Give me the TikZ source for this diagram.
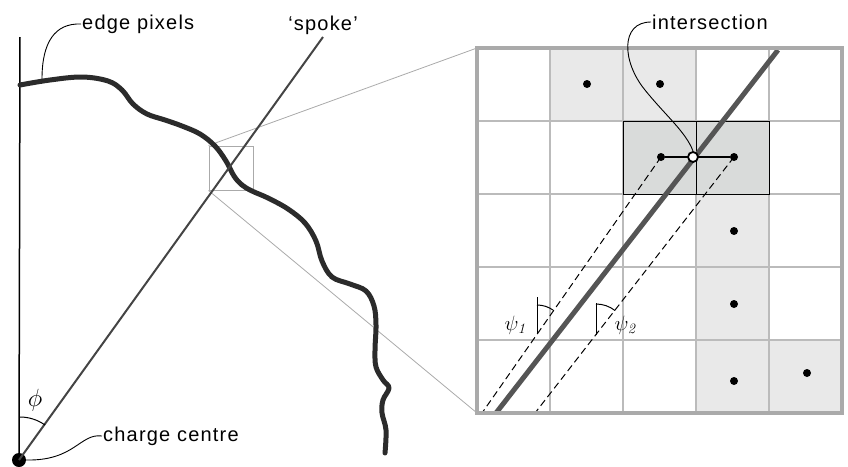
\documentclass[tikz,border=0pt]{standalone}
\usepackage[no-math]{fontspec}
\setmainfont{Liberation Sans}[LetterSpace=6]
\usepackage{amsmath}
\usetikzlibrary{positioning}
\definecolor{edgegray}{HTML}{2B2B2B}
\definecolor{raygray}{HTML}{444444}
\definecolor{gridgray}{HTML}{BBBBBB}
\definecolor{bordergray}{HTML}{AAAAAA}
\definecolor{projgray}{HTML}{AAAAAA}
\definecolor{cellgray}{HTML}{E9E9E9}
\definecolor{cellgraydark}{HTML}{D9DBDA}
\definecolor{spokegray}{HTML}{555555}
\tikzstyle{txt}=[font=\fontsize{20}{24}\selectfont,inner sep=1pt]
\tikzstyle{leader}=[black,line width=0.9pt]
\tikzstyle{dot}=[circle,fill=black,inner sep=0pt,minimum size=8pt]
\tikzstyle{hollow}=[circle,draw=black,fill=white,line width=1.8pt,inner sep=0pt,minimum size=10pt]
\tikzstyle{edgecurve}=[line width=5pt,color=edgegray,line cap=round,line join=round]
\tikzstyle{ray}=[line width=2pt,color=raygray]
\tikzstyle{cellline}=[line width=1.3pt,color=gridgray]
\tikzstyle{border}=[line width=4pt,color=bordergray]
\tikzstyle{lightcell}=[fill=cellgray]
\tikzstyle{darkcell}=[fill=cellgraydark,draw=black,line width=1pt]
\tikzstyle{proj}=[line width=0.8pt,color=projgray]
\tikzstyle{zoombox}=[draw=projgray,line width=1pt,minimum width=44pt,minimum height=44pt,inner sep=0pt]
\tikzstyle{parallel}=[dash pattern=on 7pt off 4pt,line width=1pt]
\tikzstyle{anglemark}=[line width=1pt]
\tikzstyle{greek}=[font=\huge,inner sep=0pt]
\begin{document}
\begin{tikzpicture}[x=1pt,y=-1pt]
  \useasboundingbox (0,0) rectangle (848,466);
  \coordinate (gridnw) at (477,48);
  \coordinate (gridsw) at (477,413);
  \node[zoombox] (zbox) at (231,168) {};
  \draw[proj] (zbox.north west) -- (gridnw);
  \draw[proj] (zbox.south west) -- (gridsw);

  \node[dot,minimum size=14pt] (centre) at (19,460) {};
  \coordinate (axistop) at (20,37);
  \coordinate (spoketop) at (323,37);
  \draw[line width=1.5pt] (centre.center) -- (axistop);
  \draw[edgecurve] plot[smooth,tension=0.6] coordinates {(20,85) (50,80) (82,77) (108,81) (122,90) (133,104) (147,114) (165,120) (182,126) (200,134) (215,146) (226,161) (234,176) (242,185) (252,191) (268,198) (288,209) (305,223) (316,241) (322,261) (332,277) (350,284) (366,291) (374,306) (376,325) (375,350) (376,367) (383,380) (389,388) (383,400) (382,413) (386,430) (385,453)};
  \draw[ray] (centre.center) -- (spoketop);
  \draw[line width=1pt] (20,417) arc[start angle=-90,end angle=-54.4,radius=43];
  \node[greek,font=\Huge] (philbl) at (35,400) {$\phi$};

  \coordinate (edgept) at (42,79);
  \node[txt,anchor=west] (edgelbl) at (81,24) {edge pixels};
  \draw[leader] (edgelbl.west) .. controls (55,23) and (42,42) .. (edgept);
  \node[txt,above=1pt of spoketop] (spokelbl) {‘spoke’};
  \node[txt,anchor=west] (centrelbl) at (102,436) {charge centre};
  \draw[leader] (centrelbl.west) .. controls (80,433) and (75,461) .. (centre.east);

  \foreach \c/\r in {1/0,2/0,3/2,3/3,3/4,4/4}
    \fill[lightcell] ({477+73*\c},{48+73*\r}) rectangle +(73,73);
  \foreach \i in {1,...,4} {
    \draw[cellline] ({477+73*\i},48) -- ({477+73*\i},413);
    \draw[cellline] (477,{48+73*\i}) -- (842,{48+73*\i});
  }
  \draw[darkcell] (623,121) rectangle (769,194);
  \draw[line width=1pt] (696,121) -- (696,194);

  \coordinate (p1pos) at (661,157);
  \coordinate (p2pos) at (734,157);
  \coordinate (foot1) at (482,413);
  \coordinate (foot2) at (535,413);
  \draw[parallel] (p1pos) -- (foot1);
  \draw[parallel] (p2pos) -- (foot2);
  \coordinate (gsbot) at (496,413);
  \coordinate (gstop) at (778,50);
  \draw[line width=5pt,color=spokegray] (gsbot) -- (gstop);
  \draw[border] (gridnw) rectangle (842,413);

  \coordinate (v1) at (537,333);
  \draw[anglemark] (v1) -- ++(0,-36);
  \draw[anglemark] (537,305) arc[start angle=-90,end angle=-55,radius=28];
  \node[greek] (psione) at (516,325) {$\psi_{\mathit{1}}$};
  \coordinate (v2) at (596,335);
  \draw[anglemark] (v2) -- ++(0,-32);
  \draw[anglemark] (596,304) arc[start angle=-90,end angle=-52,radius=31];
  \node[greek] (psitwo) at (626,325) {$\psi_{\mathit{2}}$};

  \node[dot] (a1) at (587,84) {};
  \node[dot] (a2) at (660,84) {};
  \node[dot] (p1) at (p1pos) {};
  \node[dot] (p2) at (p2pos) {};
  \node[dot] (b1) at (734,231) {};
  \node[dot] (b2) at (734,304) {};
  \node[dot] (b3) at (734,381) {};
  \node[dot] (b4) at (807,373) {};
  \draw[line width=2.5pt] (p1) -- (p2);
  \node[hollow] (isect) at (693,157) {};

  \node[txt,anchor=west] (isectlbl) at (651,22) {intersection};
  \draw[leader] (isectlbl.west) .. controls (620,22) and (622,62) .. (645,90)
    .. controls (665,115) and (686,132) .. (isect.north);
\end{tikzpicture}
\end{document}
